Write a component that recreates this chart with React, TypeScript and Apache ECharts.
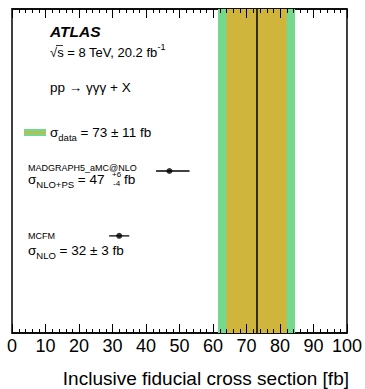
import React, { useEffect, useRef } from "react";
import * as echarts from "echarts";

// Measured cross sections [fb]
const dataCentral = 73;
const dataTotalBand = [61.5, 84.5];
const dataStatBand = [64, 82];
// theory predictions
const predictionNames = ["MADGRAPH5_aMC@NLO", "MCFM"];
const predictionCentral = [47, 32];
const predictionLow = [43, 29];
const predictionHigh = [53, 35];
const predictionRow = [5, 7];
const xTicks = { min: 0, max: 100, interval: 10 };
// tick marks on the frame (major every 10, minor every 2)
const tickValues = [
  0, 2, 4, 6, 8, 10, 12, 14, 16, 18, 20, 22, 24, 26, 28, 30, 32, 34, 36, 38, 40,
  42, 44, 46, 48, 50, 52, 54, 56, 58, 60, 62, 64, 66, 68, 70, 72, 74, 76, 78, 80,
  82, 84, 86, 88, 90, 92, 94, 96, 98, 100,
];

const FONT = "Liberation Sans, Arial, Helvetica, sans-serif";
const GREEN = "#74d98e";
const YELLOW = "#cfb53b";

export default function App() {
  const ref = useRef<HTMLDivElement>(null);
  useEffect(() => {
    if (!ref.current) return;
    const chart = echarts.init(ref.current, undefined, { renderer: "svg" });
    const axisCommon = () => ({
      type: "value",
      min: xTicks.min,
      max: xTicks.max,
      interval: xTicks.interval,
      axisLine: { show: true, onZero: false, lineStyle: { color: "#000", width: 1.5 } },
      axisTick: { show: false },
      minorTick: { show: false },
      splitLine: { show: false },
    });
    const main = { fontSize: 13.5, fontFamily: FONT, fill: "#000", lineHeight: 20, verticalAlign: "middle" };
    const sub = { fontSize: 9.5, fontFamily: FONT, fill: "#000", lineHeight: 9, verticalAlign: "bottom" };
    const sup = { fontSize: 9, fontFamily: FONT, fill: "#000", lineHeight: 9, verticalAlign: "top" };
    const txt = (x: number, y: number, text: string, extra: any = {}) => ({
      type: "text",
      z: 20,
      style: { x, y, text, fill: "#000", font: `13.5px ${FONT}`, verticalAlign: "middle", textAlign: "left", ...extra },
    });
    const errorBars = predictionCentral.map((_, i) => ({
      type: "line",
      name: predictionNames[i] + " error",
      symbol: "none",
      silent: true,
      lineStyle: { color: "#000", width: 1.3 },
      data: [
        [predictionLow[i], predictionRow[i]],
        [predictionHigh[i], predictionRow[i]],
      ],
    }));
    chart.setOption({
      animation: false,
      grid: { left: 12, right: 16, top: 9, bottom: 56, show: true, borderColor: "#000", borderWidth: 1.5, backgroundColor: "transparent" },
      xAxis: [
        {
          ...axisCommon(),
          position: "bottom",
          axisLabel: { show: true, color: "#000", fontSize: 18, fontFamily: FONT, margin: 4 },
        },
        { ...axisCommon(), position: "top", axisLabel: { show: false } },
      ],
      yAxis: {
        type: "value", min: 0, max: 10, inverse: true,
        axisLine: { show: false }, axisTick: { show: false }, axisLabel: { show: false }, splitLine: { show: false },
      },
      series: [
        {
          type: "scatter",
          name: "predictions",
          symbol: "circle",
          symbolSize: 6,
          itemStyle: { color: "#000" },
          z: 3,
          data: predictionCentral.map((c, i) => [c, predictionRow[i]]),
          markArea: {
            silent: true,
            label: { show: false },
            data: [
              [{ xAxis: dataTotalBand[0], itemStyle: { color: GREEN, opacity: 1 } }, { xAxis: dataTotalBand[1] }],
              [{ xAxis: dataStatBand[0], itemStyle: { color: YELLOW, opacity: 1 } }, { xAxis: dataStatBand[1] }],
            ],
          },
          markLine: {
            silent: true,
            symbol: "none",
            label: { show: false },
            lineStyle: { color: "#000", width: 1.5, type: "solid" },
            data: [{ xAxis: dataCentral }],
          },
        },
        ...errorBars,
      ],
    });

    // frame tick marks placed through the chart's own x scale
    const yTop = chart.convertToPixel({ yAxisIndex: 0 }, 0) as number;
    const yBottom = chart.convertToPixel({ yAxisIndex: 0 }, 10) as number;
    const ticks: any[] = [];
    tickValues.forEach((v) => {
      const px = chart.convertToPixel({ xAxisIndex: 0 }, v) as number;
      const x = Math.round(px) + 0.5;
      const len = v % xTicks.interval === 0 ? 9 : 4;
      ticks.push({ type: "line", z: 30, silent: true, shape: { x1: x, y1: yBottom, x2: x, y2: yBottom - len }, style: { stroke: "#000", lineWidth: 1 } });
      ticks.push({ type: "line", z: 30, silent: true, shape: { x1: x, y1: yTop, x2: x, y2: yTop + len }, style: { stroke: "#000", lineWidth: 1 } });
    });

    chart.setOption({
      graphic: [
        txt(50, 31, "ATLAS", { font: `italic bold 15.5px ${FONT}` }),
        txt(50, 52, "{m|√s = 8 TeV, 20.2 fb}{p|-1}", { rich: { m: { ...main, fontSize: 13 }, p: sup } }),
        { type: "line", z: 20, shape: { x1: 56, y1: 45.5, x2: 63, y2: 45.5 }, style: { stroke: "#000", lineWidth: 0.8 } },
        txt(50, 87, "pp → γγγ + X"),
        { type: "rect", z: 20, shape: { x: 24, y: 129, width: 22, height: 7 }, style: { fill: GREEN } },
        { type: "line", z: 21, shape: { x1: 24, y1: 132.5, x2: 46, y2: 132.5 }, style: { stroke: YELLOW, lineWidth: 2 } },
        txt(50, 132, "{m|σ}{s|data}{m| = 73 ± 11 fb}", { rich: { m: main, s: sub } }),
        txt(28, 168, predictionNames[0], { font: `9px ${FONT}` }),
        txt(28, 179, "{m|σ}{s|NLO+PS}{m| = 47}", { rich: { m: main, s: sub } }),
        txt(112, 174, "+6", { font: `8px ${FONT}` }),
        txt(113, 183, "-4", { font: `8px ${FONT}` }),
        txt(124, 179, "fb"),
        txt(28, 236, predictionNames[1], { font: `9px ${FONT}` }),
        txt(28, 250, "{m|σ}{s|NLO}{m| = 32 ± 3 fb}", { rich: { m: main, s: sub } }),
        txt(349, 378, "Inclusive fiducial cross section [fb]", { font: `19px ${FONT}`, textAlign: "right" }),
        ...ticks,
      ],
    });
    return () => chart.dispose();
  }, []);
  return <div ref={ref} style={{ width: 365, height: 389, position: "absolute", left: 0, top: 0 }} />;
}
